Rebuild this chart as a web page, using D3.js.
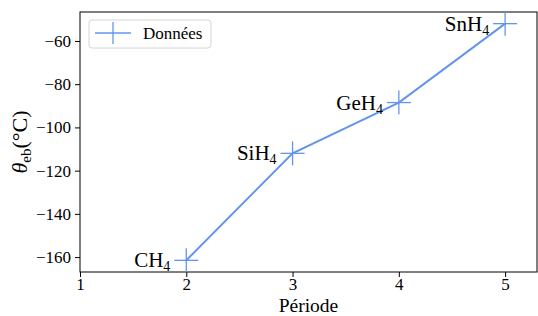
<!DOCTYPE html>
<html>
<head>
<meta charset="utf-8">
<script src="https://cdn.jsdelivr.net/npm/d3@7"></script>
<style>
	body { margin: 0; background: #fff; }
</style>
</head>
<body>
<div id="chart"></div>
<script>
const width = 538;
const height = 316;
const serif = "'Liberation Serif', 'Times New Roman', serif";

// data
const periods = [2, 3, 4, 5];
const boilingPoints = [-161.5, -112, -88.5, -52];
const formulas = ['CH', 'SiH', 'GeH', 'SnH'];
const xTicks = [1, 2, 3, 4, 5];
const yTicks = [-160, -140, -120, -100, -80, -60];

const margin = { top: 12, right: 1, bottom: 44, left: 80 };
const blue = '#6495ED';

const svg = d3
	.select('#chart')
	.append('svg')
	.attr('width', width)
	.attr('height', height)
	.style('font-family', serif);

const x = d3.scaleLinear().domain([1, 5.3]).range([margin.left, width - margin.right]);
const y = d3.scaleLinear().domain([-166.9, -46.6]).range([height - margin.bottom, margin.top]);

const points = periods.map((p, i) => ({ p: p, t: boilingPoints[i], name: formulas[i] }));

// axes ================================================================
const xAxis = svg
	.append('g')
	.attr('transform', `translate(0,${height - margin.bottom})`)
	.call(d3.axisBottom(x).tickValues(xTicks).tickSize(5).tickPadding(1).tickFormat(d3.format('d')));

const yAxis = svg
	.append('g')
	.attr('transform', `translate(${margin.left},0)`)
	.call(
		d3.axisLeft(y).tickValues(yTicks).tickSize(5).tickPadding(4).tickFormat((d) => '\u2212' + Math.abs(d))
	);

[xAxis, yAxis].forEach((a) => {
	a.attr('font-family', null).attr('font-size', null);
	a.select('.domain').remove();
	a.selectAll('line').attr('stroke', '#000').attr('stroke-width', 1);
	a.selectAll('text').style('font-family', serif).style('font-size', '17px').attr('fill', '#000');
});

// frame
svg.append('rect')
	.attr('x', margin.left)
	.attr('y', margin.top)
	.attr('width', width - margin.left - margin.right)
	.attr('height', height - margin.top - margin.bottom)
	.attr('fill', 'none')
	.attr('stroke', '#000')
	.attr('stroke-width', 1);

// line + markers ======================================================
const line = d3
	.line()
	.x((d) => x(d.p))
	.y((d) => y(d.t));

svg.append('path').datum(points).attr('d', line).attr('fill', 'none').attr('stroke', blue).attr('stroke-width', 2);

const m = 12;
const marks = svg.append('g').selectAll('g').data(points).join('g');
marks
	.append('line')
	.attr('x1', (d) => x(d.p) - m)
	.attr('x2', (d) => x(d.p) + m)
	.attr('y1', (d) => y(d.t))
	.attr('y2', (d) => y(d.t))
	.attr('stroke', blue)
	.attr('stroke-width', 1.3);
marks
	.append('line')
	.attr('x1', (d) => x(d.p))
	.attr('x2', (d) => x(d.p))
	.attr('y1', (d) => y(d.t) - m)
	.attr('y2', (d) => y(d.t) + m)
	.attr('stroke', blue)
	.attr('stroke-width', 1.3);

// labels next to points
const labels = svg
	.append('g')
	.selectAll('text')
	.data(points)
	.join('text')
	.attr('x', (d) => x(d.p - 0.15))
	.attr('y', (d) => y(d.t) + 7)
	.attr('text-anchor', 'end')
	.style('font-size', '21px');
labels.append('tspan').text((d) => d.name);
labels
	.append('tspan')
	.attr('dy', 4)
	.style('font-size', '14px')
	.text('4');

// axis titles =========================================================
svg.append('text')
	.attr('x', (margin.left + width - margin.right) / 2)
	.attr('y', 311.5)
	.attr('text-anchor', 'middle')
	.style('font-size', '19.5px')
	.text('Période');

const yLabel = svg
	.append('text')
	.attr('transform', `translate(27,${(margin.top + height - margin.bottom) / 2}) rotate(-90)`)
	.attr('text-anchor', 'middle')
	.style('font-size', '22px');
yLabel.append('tspan').style('font-style', 'italic').text('\u03b8');
yLabel.append('tspan').attr('dy', 4).style('font-size', '15px').text('eb');
yLabel.append('tspan').attr('dy', -4).text('(°C)');

// legend ==============================================================
const legend = svg.append('g').attr('transform', 'translate(89,20)');
legend
	.append('rect')
	.attr('width', 122)
	.attr('height', 28)
	.attr('rx', 3)
	.attr('fill', '#fff')
	.attr('fill-opacity', 0.8)
	.attr('stroke', '#d6d6d6');
legend.append('line').attr('x1', 6).attr('x2', 42).attr('y1', 13).attr('y2', 13).attr('stroke', blue).attr('stroke-width', 1.5);
legend.append('line').attr('x1', 24).attr('x2', 24).attr('y1', 2).attr('y2', 24).attr('stroke', blue).attr('stroke-width', 1.3);
legend.append('text').attr('x', 54).attr('y', 19).style('font-size', '17px').text('Données');
</script>
</body>
</html>
